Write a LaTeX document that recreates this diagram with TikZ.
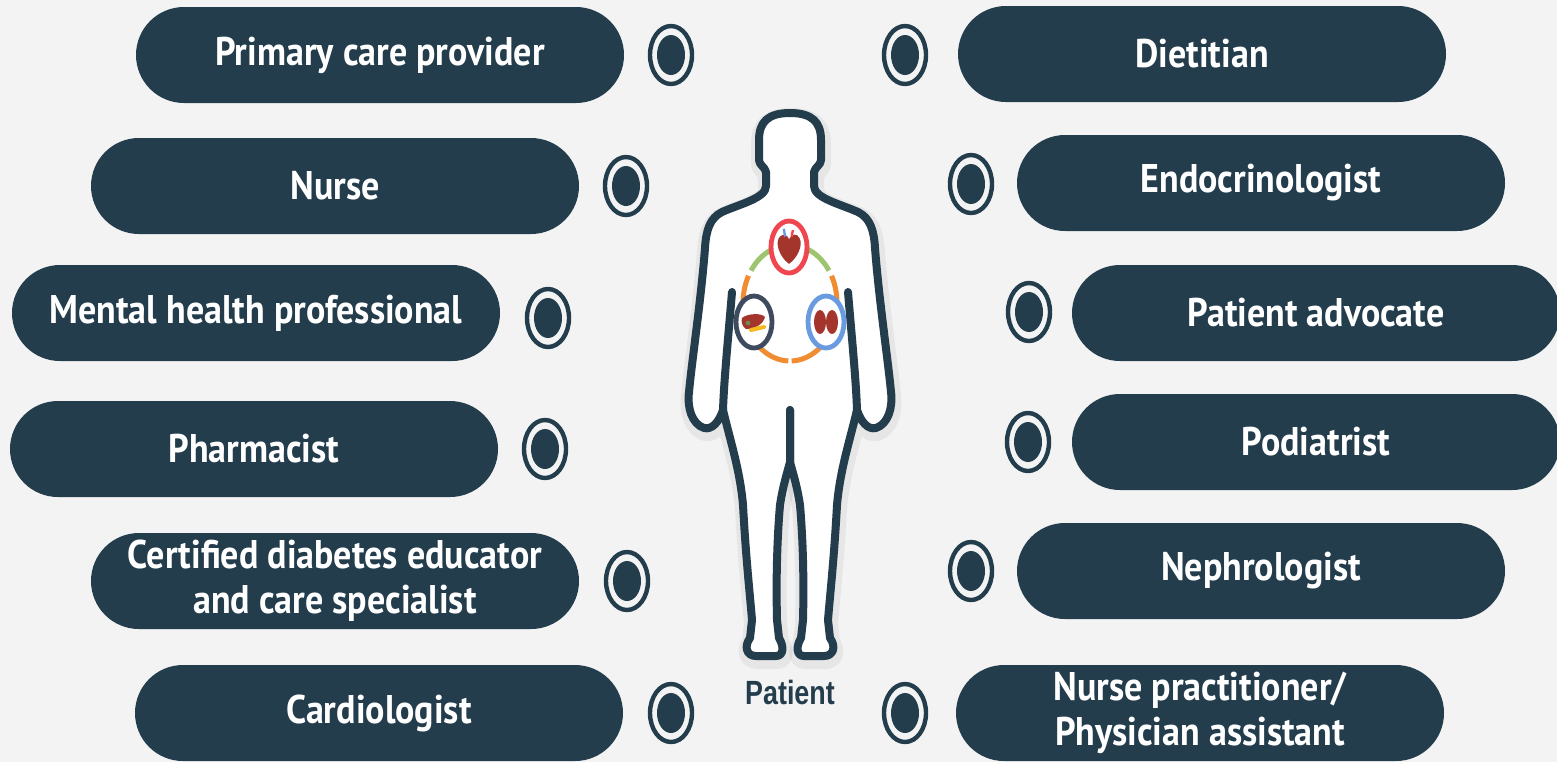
\documentclass[tikz,border=0pt]{standalone}
\usepackage{fontspec}
\usepackage{tikz}
\usetikzlibrary{shapes.geometric}

\newfontfamily\pillfont{PT Sans}[FakeStretch=0.9]
\newfontfamily\labelfont{Liberation Sans}[FakeStretch=0.8]

\definecolor{navy}{HTML}{233D4D}
\definecolor{paper}{HTML}{F3F3F3}
\definecolor{heartred}{HTML}{F04650}
\definecolor{liverblue}{HTML}{3E4A5E}
\definecolor{kidneyblue}{HTML}{6A9AE0}
\definecolor{ringgreen}{HTML}{9DC46F}
\definecolor{ringorange}{HTML}{F08C32}
\definecolor{organ}{HTML}{A3352C}

\tikzset{
  role/.style={fill=navy, text=white, rounded corners=24pt, minimum width=244pt,
    minimum height=48pt, inner sep=0pt, align=center,
    font=\pillfont\bfseries\fontsize{20}{22.5}\selectfont},
  roledot/.style={shape=ellipse, draw=navy, line width=2.2pt, fill=paper,
    minimum width=21pt, minimum height=29pt, inner sep=0pt,
    path picture={\fill[navy] (path picture bounding box.center) ellipse[x radius=7pt, y radius=10pt];}},
  organring/.style={shape=ellipse, fill=white, line width=2.4pt,
    minimum width=18pt, minimum height=26pt, inner sep=0pt},
  outline/.style={draw=navy, line width=4pt, line join=round, line cap=round},
  cycle arc/.style={line width=2.5pt, samples=30, variable=\t}
}

% left half of the body, x measured from the centre line
\newcommand\halfbody{(0,113) .. controls (-22,113) and (-31,122) .. (-31,140)
  -- (-31,160) .. controls (-31,165) and (-25,167) .. (-24,172)
  -- (-24,186) .. controls (-24,198) and (-50,204) .. (-68,212)
  .. controls (-80,218) and (-84,230) .. (-85,248)
  .. controls (-89,300) and (-98,360) .. (-101,392)
  .. controls (-103,408) and (-98,424) .. (-86,428)
  .. controls (-78,430) and (-71,422) .. (-67,410)
  .. controls (-60,440) and (-50,470) .. (-47,505)
  .. controls (-44,560) and (-40,595) .. (-38,620)
  -- (-40,638) .. controls (-46,646) and (-44,656) .. (-34,656)
  -- (-14,656) .. controls (-6,656) and (-6,646) .. (-11,638)
  -- (-13,620) .. controls (-14,580) and (-13,540) .. (-10,505)
  .. controls (-7,485) and (-2,470) .. (0,462) -- (0,410)}

\begin{document}
\begin{tikzpicture}[x=0.5pt,y=-0.5pt]
\useasboundingbox (0,0) rectangle (1557,762);
\fill[paper] (0,0) rectangle (1557,762);

% team members
\node[role] (pcp) at (380,55) {Primary care provider};
\node[role] (nurse) at (335,186) {Nurse};
\node[role] (mental) at (256,313) {Mental health professional};
\node[role] (pharm) at (254,449) {Pharmacist};
\node[role] (cde) at (335,581) {Certified diabetes educator\\and care specialist};
\node[role] (cardio) at (379,713) {Cardiologist};
\node[role] (diet) at (1202,54) {Dietitian};
\node[role] (endo) at (1261,183) {Endocrinologist};
\node[role] (advocate) at (1316,313) {Patient advocate};
\node[role] (podia) at (1316,442) {Podiatrist};
\node[role] (nephro) at (1261,571) {Nephrologist};
\node[role] (np) at (1200,713) {Nurse practitioner/\\Physician assistant};

\node[roledot] (dpcp) at (671,55) {};
\node[roledot] (dnurse) at (626,186) {};
\node[roledot] (dmental) at (548,318) {};
\node[roledot] (dpharm) at (545,449) {};
\node[roledot] (dcde) at (627,581) {};
\node[roledot] (dcardio) at (671,713) {};
\node[roledot] (ddiet) at (905,55) {};
\node[roledot] (dendo) at (971,184) {};
\node[roledot] (dadvocate) at (1029,312) {};
\node[roledot] (dpodia) at (1028,442) {};
\node[roledot] (dnephro) at (971,571) {};
\node[roledot] (dnp) at (905,713) {};

% patient
\foreach \side in {1,-1} {
  \begin{scope}[shift={(791,4)}, xscale=\side]
    \draw[black, opacity=0.05, line width=9pt, line join=round] \halfbody;
  \end{scope}
}
\foreach \side in {1,-1} {
  \begin{scope}[shift={(790,0)}, xscale=\side]
    \filldraw[white, line width=1pt] \halfbody -- cycle;
  \end{scope}
}
\foreach \side in {1,-1} {
  \begin{scope}[shift={(790,0)}, xscale=\side]
    \draw[outline] \halfbody;
    \draw[outline] (-58,292) .. controls (-62,340) and (-66,380) .. (-67,410);
  \end{scope}
}
\node[font=\labelfont\bfseries\fontsize{16.8}{18}\selectfont, text=navy] (patient) at (790,692) {Patient};

% organ cycle
\draw[cycle arc, ringgreen, domain=214:266] plot ({790+47*cos(\t)}, {303+58*sin(\t)});
\draw[cycle arc, ringgreen, domain=-86:-34] plot ({790+47*cos(\t)}, {303+58*sin(\t)});
\draw[cycle arc, ringorange, domain=92:208] plot ({790+47*cos(\t)}, {303+58*sin(\t)});
\draw[cycle arc, ringorange, domain=-28:88] plot ({790+47*cos(\t)}, {303+58*sin(\t)});

\node[organring, draw=heartred] (heart) at (789,247) {};
\node[organring, draw=liverblue] (liver) at (754,322) {};
\node[organring, draw=kidneyblue] (kidney) at (826,322) {};

\begin{scope}[shift={(heart.center)}, scale=1.3]
  \fill[organ] (0,13) .. controls (-8,7) and (-11,-4) .. (-7,-8) .. controls (-4,-11) and (-1,-9) .. (0,-6)
    .. controls (2,-10) and (6,-11) .. (8,-7) .. controls (11,-2) and (7,8) .. (0,13) -- cycle;
  \draw[kidneyblue, line width=1.2pt] (-3,-8) -- (-4,-14);
  \draw[heartred, line width=1.2pt] (2,-8) -- (3,-13);
\end{scope}
\begin{scope}[shift={(liver.center)}]
  \fill[organ] (-12,-4) .. controls (-6,-9) and (8,-9) .. (11,-5) .. controls (9,3) and (0,7) .. (-8,7)
    .. controls (-12,4) and (-13,0) .. (-12,-4) -- cycle;
  \fill[ringgreen!70!black] (-6,1) circle[radius=1.2pt];
  \draw[ringorange!60!yellow, line width=2pt, line cap=round] (-3,8) -- (10,5);
\end{scope}
\begin{scope}[shift={(kidney.center)}]
  \draw[kidneyblue!50, line width=1pt] (-4,0) -- (4,0);
  \fill[organ] (-6,0) ellipse[x radius=3pt, y radius=6pt];
  \fill[organ] (6,0) ellipse[x radius=3pt, y radius=6pt];
\end{scope}
\end{tikzpicture}
\end{document}
